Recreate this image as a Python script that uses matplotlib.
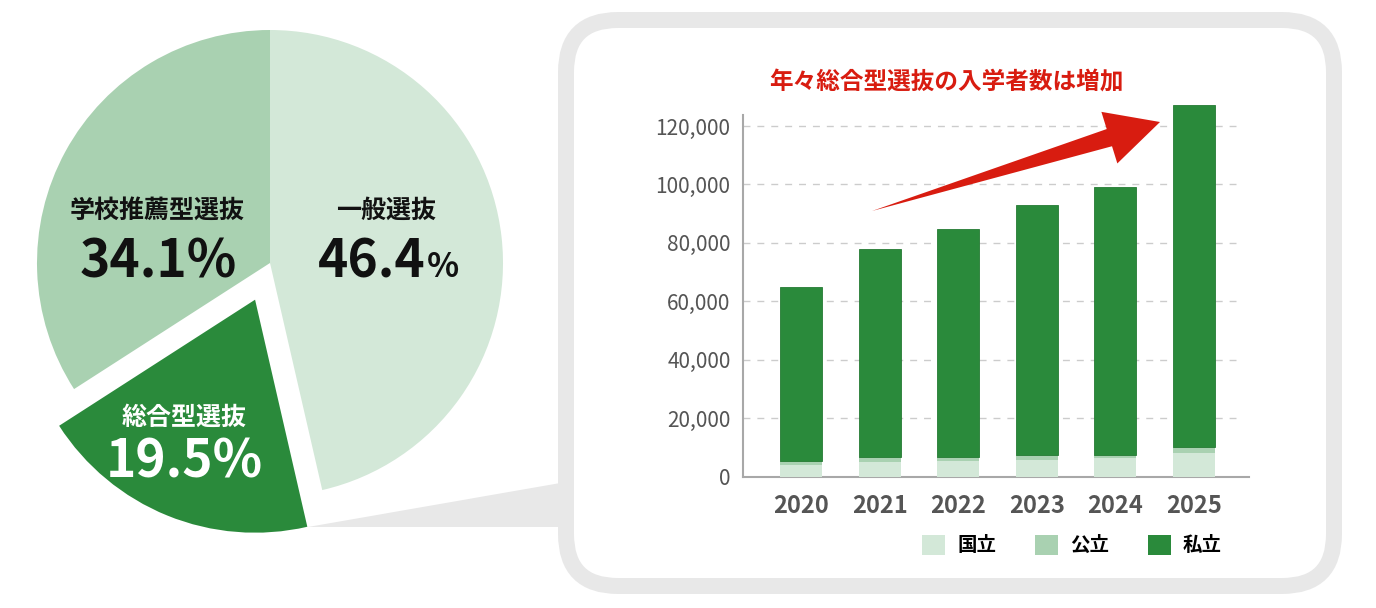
import matplotlib
matplotlib.use('Agg')
import matplotlib.pyplot as plt
from matplotlib.patches import Polygon, FancyBboxPatch, Patch

plt.rcParams['font.family'] = ['Noto Sans CJK JP', 'DejaVu Sans']

# pie data
pie_labels = ['一般選抜', '総合型選抜', '学校推薦型選抜']
pie_values = [46.4, 19.5, 34.1]
pie_colors = ['#d3e8d8', '#2a8a3b', '#a9d1b1']

# bar data (総合型選抜 入学者数)
years = ['2020', '2021', '2022', '2023', '2024', '2025']
national = [3800, 5000, 5200, 5800, 6200, 7900]
public = [1450, 1600, 1400, 1400, 1300, 2300]
private = [59750, 71200, 78100, 85700, 91600, 117000]
series_names = ['国立', '公立', '私立']
bar_colors = ['#d3e8d8', '#a9d1b1', '#2a8a3b']

W, H = 1376, 608
fig = plt.figure(figsize=(W / 100, H / 100), dpi=100)
fig.patch.set_facecolor('white')

# background layer in pixel coords (card + connector)
bg = fig.add_axes([0, 0, 1, 1], zorder=-1)
bg.set_xlim(0, W)
bg.set_ylim(H, 0)
bg.axis('off')
bg.add_patch(Polygon([(308, 527), (566, 482), (566, 527)], closed=True,
                     facecolor='#e8e8e8', edgecolor='none'))
card = FancyBboxPatch((566, 20), 1334 - 566, 586 - 20,
                      boxstyle='round,pad=0,rounding_size=52',
                      facecolor='white', edgecolor='#e8e8e8', linewidth=11.5)
bg.add_patch(card)

# pie
S = 600
cx, cy, r = 270, H - 263, 233
pax = fig.add_axes([(cx - S / 2) / W, (cy - S / 2) / H, S / W, S / H], zorder=0)
pax.pie(pie_values, colors=pie_colors, startangle=90, counterclock=False,
        explode=[0, 0.17, 0], radius=1, wedgeprops=dict(linewidth=0))
L = (S / 2) / r
pax.set_xlim(-L, L)
pax.set_ylim(-L, L)
pax.set_aspect('equal')
pax.axis('off')

# bar chart
x0, x1, yb, yt = 743, 1249, 476.5, 115
ax = fig.add_axes([x0 / W, (H - yb) / H, (x1 - x0) / W, (yb - yt) / H], zorder=1)
ax.set_facecolor('none')
pos = list(range(len(years)))
bottom2 = [a + b for a, b in zip(national, public)]
ax.bar(pos, national, width=0.535, color=bar_colors[0], label=series_names[0],
       zorder=3, clip_on=False)
ax.bar(pos, public, width=0.535, bottom=national, color=bar_colors[1],
       label=series_names[1], zorder=3, clip_on=False)
ax.bar(pos, private, width=0.535, bottom=bottom2, color=bar_colors[2],
       edgecolor='#247a33', linewidth=0.6, label=series_names[2], zorder=3,
       clip_on=False)
ax.set_xlim(-0.74, 5.70)
ax.set_ylim(0, 123800)
ax.set_yticks(range(0, 120001, 20000))
ax.set_yticklabels([f'{v:,}' for v in range(0, 120001, 20000)])
ax.set_xticks(pos)
ax.set_xticklabels(years)
ax.tick_params(axis='y', length=0, pad=9, labelsize=15, labelcolor='#555555')
ax.tick_params(axis='x', length=0, pad=12.5, labelsize=17, labelcolor='#555555')
for lab in ax.get_xticklabels():
    lab.set_fontweight('bold')
for s in ['top', 'right']:
    ax.spines[s].set_visible(False)
for s in ['left', 'bottom']:
    ax.spines[s].set_color('#a8a8a8')
    ax.spines[s].set_linewidth(1.5)
for v in range(20000, 120001, 20000):
    ax.axhline(v, xmax=0.975, color='#cccccc', linewidth=1,
               linestyle=(0, (5, 5)), zorder=1)

handles = [Patch(facecolor=c, edgecolor='none') for c in bar_colors]
fig.legend(handles, series_names, loc='center', ncol=3, frameon=False,
           bbox_to_anchor=(1072 / W, (H - 545) / H), bbox_transform=fig.transFigure,
           prop=dict(size=14, weight='bold'), handlelength=1.2, handleheight=1.2,
           handletextpad=0.6, columnspacing=2.0)

# foreground layer: labels, title, arrow
top = fig.add_axes([0, 0, 1, 1], zorder=2)
top.set_xlim(0, W)
top.set_ylim(H, 0)
top.axis('off')
top.patch.set_alpha(0)

top.text(157, 211, '学校推薦型選抜', ha='center', va='center', fontsize=18,
         fontweight='bold', color='#111111')
top.text(158, 277, '34.1%', ha='center', va='baseline', fontsize=37,
         fontweight='bold', color='#111111')
top.text(386, 211, '一般選抜', ha='center', va='center', fontsize=18,
         fontweight='bold', color='#111111')
top.text(426, 277, '46.4', ha='right', va='baseline', fontsize=37,
         fontweight='bold', color='#111111')
top.text(427, 277, '%', ha='left', va='baseline', fontsize=24,
         fontweight='bold', color='#111111')
top.text(184, 418, '総合型選抜', ha='center', va='center', fontsize=18,
         fontweight='bold', color='white')
top.text(184, 478, '19.5%', ha='center', va='baseline', fontsize=37,
         fontweight='bold', color='white')

top.text(946, 83, '年々総合型選抜の入学者数は増加', ha='center', va='center',
         fontsize=17, fontweight='bold', color='#d81c10')

# arrow (tapered shaft + head)
tail = (872, 211)
tip = (1160, 122)
dx, dy = tip[0] - tail[0], tip[1] - tail[1]
ln = (dx ** 2 + dy ** 2) ** 0.5
ux, uy = dx / ln, dy / ln
nx, ny = -uy, ux
hl, hw, sw = 53, 27, 9
bx, by = tip[0] - ux * hl, tip[1] - uy * hl
arrow_pts = [tail,
             (bx + nx * sw, by + ny * sw),
             (bx + nx * hw, by + ny * hw),
             tip,
             (bx - nx * hw, by - ny * hw),
             (bx - nx * sw, by - ny * sw)]
top.add_patch(Polygon(arrow_pts, closed=True, facecolor='#d81c10', edgecolor='none'))

fig.savefig('out.png', dpi=100, facecolor='white')
